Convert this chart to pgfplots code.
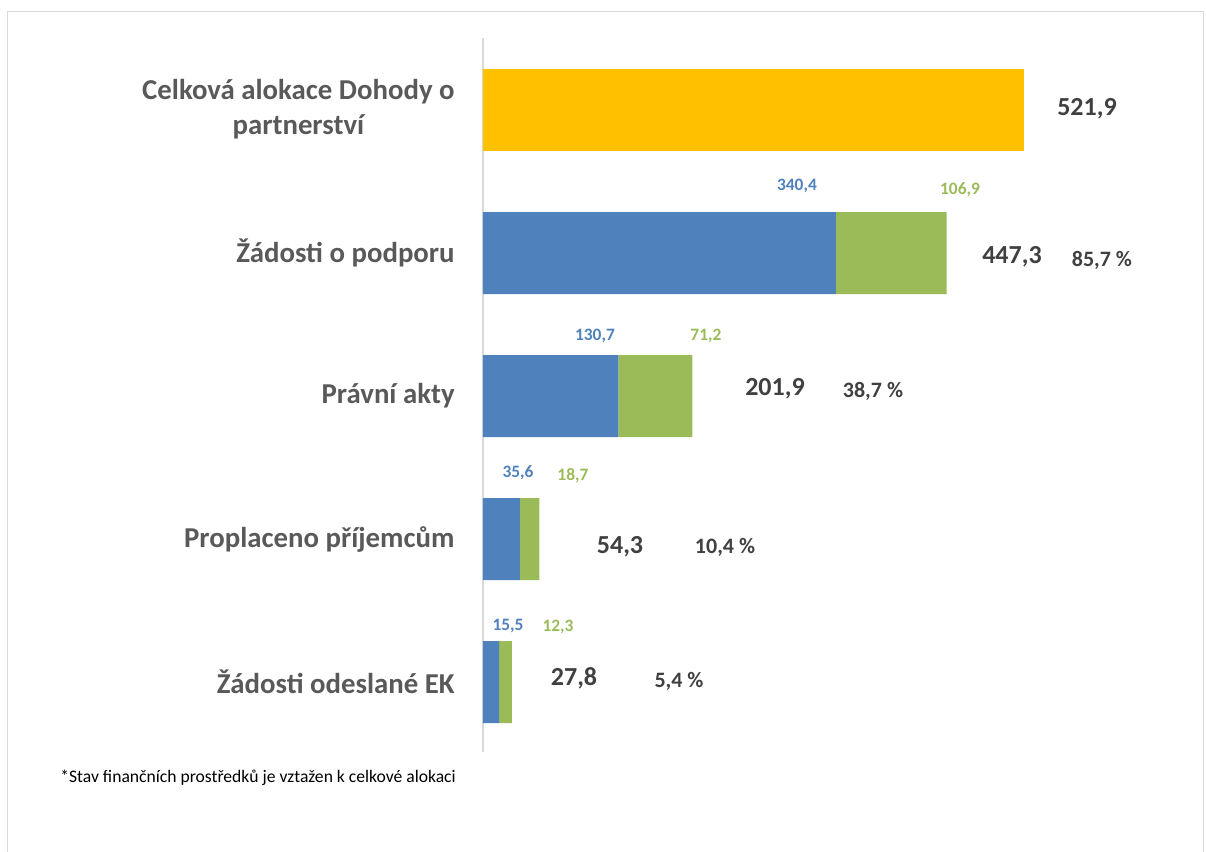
\documentclass[border=0pt]{standalone}
\usepackage{pgfplots}
\pgfplotsset{compat=1.18}
\usepackage{fontspec}
\setmainfont{Carlito}
\definecolor{cyellow}{HTML}{FFC000}
\definecolor{cblue}{HTML}{4F81BD}
\definecolor{cgreen}{HTML}{9BBB59}
\definecolor{catlab}{HTML}{595959}
\definecolor{vallab}{HTML}{404040}
\definecolor{axisgray}{HTML}{D9D9D9}
\definecolor{framegray}{HTML}{D9D9D9}
\tikzset{
  totlab/.style={text=vallab, font=\fontsize{13}{15}\selectfont\bfseries, inner sep=0pt},
  pctlab/.style={text=vallab, font=\fontsize{11}{13}\selectfont\bfseries, inner sep=0pt},
  bluelab/.style={text=cblue, font=\fontsize{8.7}{10}\selectfont\bfseries, inner sep=0pt},
  greenlab/.style={text=cgreen, font=\fontsize{8.7}{10}\selectfont\bfseries, inner sep=0pt},
}
\begin{document}
\begin{tikzpicture}
\useasboundingbox (-241.5pt,-50pt) rectangle (361.5pt,376pt);
\draw[color=framegray, line width=0.75pt] (-237.75pt,-60pt) -- (-237.75pt,370.25pt) -- (360.25pt,370.25pt) -- (360.25pt,-60pt);
\begin{axis}[
  at={(0pt,0pt)}, anchor=south west,
  scale only axis, width=310.98pt, height=357pt,
  xmin=0, xmax=600, ymin=-0.4895, ymax=4.5035,
  xbar stacked, bar width=41pt,
  axis x line=none, axis y line*=left,
  y axis line style={draw=axisgray, line width=0.75pt, -},
  ytick={0,1,2,3,4},
  yticklabels={{Žádosti odeslané EK},{Proplaceno příjemcům},{Právní akty},{Žádosti o podporu},{\begin{tabular}{@{}c@{}}Celková alokace Dohody o\\partnerství\end{tabular}}},
  ytick style={draw=none},
  yticklabel style={anchor=east, inner sep=0pt, xshift=-14pt, text=catlab, font=\fontsize{14.4}{17.5}\selectfont\bfseries},
  clip=false,
]
\addplot[fill=cyellow, draw=none] coordinates {(521.9,4) (0,3) (0,2) (0,1) (0,0)};
\addplot[fill=cblue, draw=none] coordinates {(0,4) (340.4,3) (130.7,2) (35.6,1) (15.5,0)};
\addplot[fill=cgreen, draw=none] coordinates {(0,4) (106.9,3) (71.2,2) (18.7,1) (12.3,0)};
\node[totlab] at (axis cs:582.7,4.007) {521,9};
\node[totlab] at (axis cs:510.3,2.972) {447,3};
\node[totlab] at (axis cs:281.7,2.049) {201,9};
\node[totlab] at (axis cs:132.2,0.944) {54,3};
\node[totlab] at (axis cs:87.8,0.028) {27,8};
\node[pctlab] at (axis cs:597.1,2.951) {85,7 \%};
\node[pctlab] at (axis cs:376.2,2.035) {38,7 \%};
\node[pctlab] at (axis cs:233.5,0.944) {10,4 \%};
\node[pctlab] at (axis cs:189.1,0.007) {5,4 \%};
\node[bluelab] at (axis cs:302.9,3.469) {340,4};
\node[bluelab] at (axis cs:108.0,2.420) {130,7};
\node[bluelab] at (axis cs:33.8,1.462) {35,6};
\node[bluelab] at (axis cs:24.1,0.392) {15,5};
\node[greenlab] at (axis cs:460.2,3.441) {106,9};
\node[greenlab] at (axis cs:215.1,2.420) {71,2};
\node[greenlab] at (axis cs:86.8,1.441) {18,7};
\node[greenlab] at (axis cs:72.4,0.385) {12,3};
\end{axis}
\node[anchor=west, inner sep=0pt, font=\fontsize{8.8}{10}\selectfont] at (-211.5pt,-13pt) {*Stav finančních prostředků je vztažen k celkové alokaci};
\end{tikzpicture}
\end{document}
